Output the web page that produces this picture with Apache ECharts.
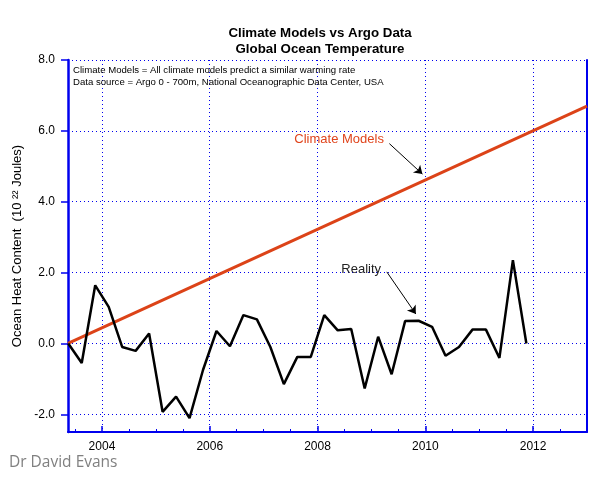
<!DOCTYPE html>
<html>
<head>
<meta charset="utf-8">
<script src="https://cdn.jsdelivr.net/npm/echarts@6/dist/echarts.min.js"></script>
<style>html,body{margin:0;padding:0;background:#fff}#c{width:604px;height:484px}</style>
</head>
<body>
<div id="c"></div>
<script>
// ---- data ----
const quarters = [2003.375, 2003.625, 2003.875, 2004.125, 2004.375, 2004.625, 2004.875,
  2005.125, 2005.375, 2005.625, 2005.875, 2006.125, 2006.375, 2006.625, 2006.875,
  2007.125, 2007.375, 2007.625, 2007.875, 2008.125, 2008.375, 2008.625, 2008.875,
  2009.125, 2009.375, 2009.625, 2009.875, 2010.125, 2010.375, 2010.625, 2010.875,
  2011.125, 2011.375, 2011.625, 2011.875];
const argoValues = [0.0, -0.55, 1.64, 1.03, -0.1, -0.21, 0.28,
  -1.93, -1.5, -2.11, -0.75, 0.35, -0.08, 0.80, 0.68,
  -0.1, -1.15, -0.38, -0.38, 0.80, 0.37, 0.41, -1.27,
  0.19, -0.87, 0.63, 0.64, 0.47, -0.35, -0.1, 0.39,
  0.39, -0.41, 2.35, 0.0];
const modelYears = [2003.37, 2013.0];
const modelValues = [0.0, 6.7];
const xMajorTicks = [2004, 2006, 2008, 2010, 2012];
const xMinorTicks = [2003.5, 2004.5, 2005, 2005.5, 2006.5, 2007, 2007.5, 2008.5, 2009, 2009.5,
  2010.5, 2011, 2011.5, 2012.5];
const yTicks = [-2, 0, 2, 4, 6, 8];
const xRange = [2003.37, 2013.0];
const yRange = [-2.5, 8.0];
// annotations (data coordinates)
const modelLabel = {text: 'Climate Models', at: [2008.40, 5.75]};
const modelArrow = [[2009.333, 5.64], [2009.946, 4.78]];
const realityLabel = {text: 'Reality', at: [2008.81, 2.09]};
const realityArrow = [[2009.285, 2.02], [2009.824, 0.83]];

const BLUE = '#0000ee';
const FONT = 'Liberation Sans, Arial, sans-serif';
const chart = echarts.init(document.getElementById('c'), null, {renderer: 'canvas'});
const gridDots = {show: true, lineStyle: {color: BLUE, width: 1, type: [1, 3]}};

chart.setOption({
  animation: false,
  backgroundColor: '#fff',
  textStyle: {fontFamily: FONT},
  title: [
    {text: 'Climate Models vs Argo Data\nGlobal Ocean Temperature', left: 320, top: 25, textAlign: 'center', padding: 0,
     textStyle: {fontSize: 13.3, fontWeight: 'bold', color: '#000', lineHeight: 16, fontFamily: FONT}},
    {text: 'Climate Models = All climate models predict a similar warming rate\nData source = Argo 0 - 700m, National Oceanographic Data Center, USA',
     left: 73, top: 65, padding: 0,
     textStyle: {fontSize: 9.6, fontWeight: 'normal', color: '#000', lineHeight: 11.5, fontFamily: FONT}},
    {text: 'Dr David Evans', left: 9, top: 455, padding: 0,
     textStyle: {fontSize: 15.5, fontWeight: 'normal', color: '#808080', fontFamily: 'Open Sans, sans-serif'}}
  ],
  grid: {left: 68, right: 17, top: 60, bottom: 52},
  xAxis: [
    {type: 'value', position: 'bottom', min: xRange[0], max: xRange[1],
     axisLine: {show: true, onZero: false, lineStyle: {color: BLUE, width: 2}},
     axisTick: {show: true, inside: true, length: 6, customValues: xMajorTicks, lineStyle: {color: BLUE, width: 1.5}},
     axisLabel: {show: true, customValues: xMajorTicks, margin: 9, fontSize: 12, color: '#000', formatter: v => String(v)},
     splitLine: gridDots},
    {type: 'value', position: 'bottom', min: xRange[0], max: xRange[1],
     axisLine: {show: false, onZero: false},
     axisTick: {show: true, inside: true, length: 3, customValues: xMinorTicks, lineStyle: {color: BLUE, width: 1}},
     axisLabel: {show: false}, splitLine: {show: false}}
  ],
  yAxis: [
    {type: 'value', position: 'left', min: yRange[0], max: yRange[1],
     name: 'Ocean Heat Content  (10 ²² Joules)', nameLocation: 'middle', nameGap: 44,
     nameTextStyle: {fontSize: 13, color: '#000'},
     axisLine: {show: true, onZero: false, lineStyle: {color: BLUE, width: 2.5}},
     axisTick: {show: true, inside: false, length: 7, customValues: yTicks, lineStyle: {color: BLUE, width: 1.5}},
     axisLabel: {show: true, customValues: yTicks, margin: 13, fontSize: 12, color: '#000', formatter: v => v.toFixed(1)},
     splitLine: gridDots},
    {type: 'value', position: 'right', min: yRange[0], max: yRange[1],
     axisLine: {show: true, onZero: false, lineStyle: {color: BLUE, width: 2}},
     axisTick: {show: false}, axisLabel: {show: false}, splitLine: {show: false}}
  ],
  series: [
    {type: 'line', name: 'Climate Models', xAxisIndex: 0, yAxisIndex: 0,
     data: modelYears.map((x, i) => [x, modelValues[i]]),
     showSymbol: false, symbol: 'none', lineStyle: {color: '#dc4318', width: 3}, z: 2,
     markPoint: {symbol: 'circle', symbolSize: 1, itemStyle: {color: 'rgba(0,0,0,0)'},
       data: [{coord: modelLabel.at, label: {show: true, position: 'inside', formatter: modelLabel.text,
         fontSize: 13, color: '#e0441c', fontFamily: FONT}}]},
     markLine: {silent: true, symbol: ['none', 'arrow'], symbolSize: 8, label: {show: false},
       lineStyle: {color: '#000', width: 1, type: 'solid'},
       data: [[{coord: modelArrow[0]}, {coord: modelArrow[1]}]]}},
    {type: 'line', name: 'Argo', xAxisIndex: 0, yAxisIndex: 0,
     data: quarters.map((x, i) => [x, argoValues[i]]),
     showSymbol: false, symbol: 'none', lineStyle: {color: '#000', width: 2.5}, z: 3,
     markPoint: {symbol: 'circle', symbolSize: 1, itemStyle: {color: 'rgba(0,0,0,0)'},
       data: [{coord: realityLabel.at, label: {show: true, position: 'inside', formatter: realityLabel.text,
         fontSize: 13, color: '#222', fontFamily: FONT}}]},
     markLine: {silent: true, symbol: ['none', 'arrow'], symbolSize: 8, label: {show: false},
       lineStyle: {color: '#000', width: 1, type: 'solid'},
       data: [[{coord: realityArrow[0]}, {coord: realityArrow[1]}]]}}
  ]
});
</script>
</body>
</html>
